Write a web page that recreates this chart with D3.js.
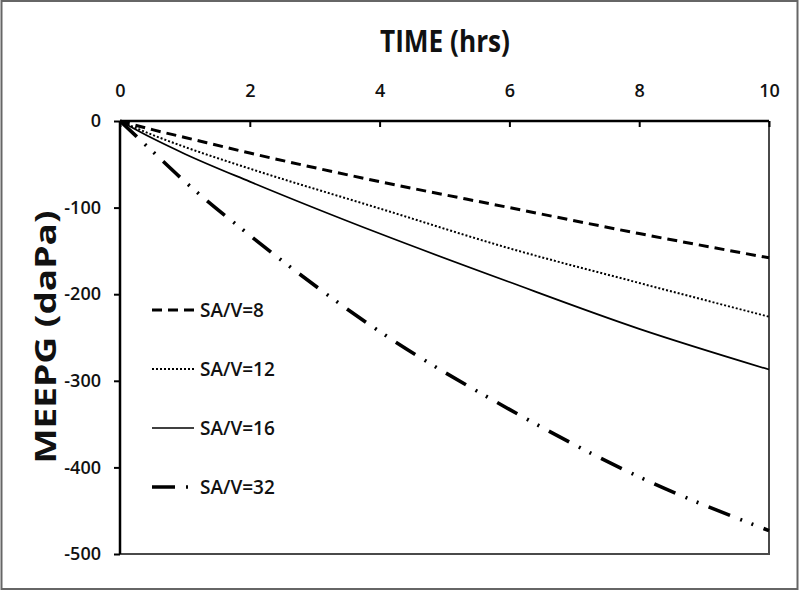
<!DOCTYPE html>
<html>
<head>
<meta charset="utf-8">
<script src="https://cdn.jsdelivr.net/npm/d3@7"></script>
<style>
  body { margin: 0; background: #fff; }
  svg { display: block; }
</style>
</head>
<body>
<div id="wrapper"></div>
<script>
// data
const times = [0, 0.5, 1, 2, 4, 6, 8, 10]
const sav8  = [0, -10, -19, -37, -70, -100, -130, -158]
const sav12 = [0, -16, -30, -55, -101, -147, -187, -226]
const sav16 = [0, -20, -38, -70, -130, -186, -240, -287]
const sav32 = [0, -35, -70, -132, -243, -333, -411, -473]

const seriesNames = ["SA/V=8", "SA/V=12", "SA/V=16", "SA/V=32"]
const xTicks = [0, 2, 4, 6, 8, 10]
const yTicks = [0, -100, -200, -300, -400, -500]

function drawChart() {
  const dimensions = {
    width: 800,
    height: 591,
    margin: { top: 121, right: 31, bottom: 37, left: 120 },
  }
  dimensions.boundedWidth = dimensions.width - dimensions.margin.left - dimensions.margin.right
  dimensions.boundedHeight = dimensions.height - dimensions.margin.top - dimensions.margin.bottom

  const svg = d3.select("#wrapper")
    .append("svg")
      .attr("width", dimensions.width)
      .attr("height", dimensions.height)

  // outer frame
  svg.append("rect")
    .attr("x", 1.5).attr("y", 1)
    .attr("width", 796).attr("height", 588)
    .attr("fill", "none")
    .attr("stroke", "#666")
    .attr("stroke-width", 2)

  const bounds = svg.append("g")
    .attr("transform", `translate(${dimensions.margin.left},${dimensions.margin.top})`)

  const xScale = d3.scaleLinear()
    .domain([0, 10])
    .range([0, dimensions.boundedWidth])

  const yScale = d3.scaleLinear()
    .domain([-500, 0])
    .range([dimensions.boundedHeight, 0])

  // right and bottom edges of plot box
  bounds.append("path")
    .attr("d", `M${xScale(10)},${yScale(0)}V${yScale(-500)}H${xScale(0)}`)
    .attr("fill", "none")
    .attr("stroke", "#4a4a4a")
    .attr("stroke-width", 2)

  const series = [
    { name: seriesNames[0], values: sav8,  dash: "10,6", width: 3 },
    { name: seriesNames[1], values: sav12, dash: "2,2", width: 2 },
    { name: seriesNames[2], values: sav16, dash: null, width: 1.7 },
    { name: seriesNames[3], values: sav32, dash: "23,11,2,10,2,11", width: 3.6 },
  ]

  const lineGenerator = d3.line()
    .curve(d3.curveMonotoneX)
    .x((d, i) => xScale(times[i]))
    .y(d => yScale(d))

  bounds.selectAll(".series")
    .data(series)
    .join("path")
      .attr("class", "series")
      .attr("d", d => lineGenerator(d.values))
      .attr("fill", "none")
      .attr("stroke", "#000")
      .attr("stroke-width", d => d.width)
      .attr("stroke-dasharray", d => d.dash)

  // axes
  const xAxisGenerator = d3.axisTop(xScale)
    .tickValues(xTicks)
    .tickSize(-6)
    .tickPadding(24)
    .tickFormat(d3.format("d"))

  const xAxis = bounds.append("g").call(xAxisGenerator)

  const yAxisGenerator = d3.axisLeft(yScale)
    .tickValues(yTicks)
    .tickSize(6)
    .tickPadding(13)
    .tickFormat(d => d === 0 ? "0" : "-" + Math.abs(d))

  const yAxis = bounds.append("g").call(yAxisGenerator)

  ;[xAxis, yAxis].forEach(ax => {
    ax.select(".domain").attr("stroke", "#000").attr("stroke-width", 2.5)
    ax.selectAll(".tick line").attr("stroke", "#000").attr("stroke-width", 2)
    ax.selectAll(".tick text")
      .attr("fill", "#111")
      .style("font-family", "'Open Sans', sans-serif")
      .style("font-size", "18px")
      .style("font-weight", 600)
  })
  xAxis.select(".domain").attr("d", `M0,0H${dimensions.boundedWidth}`)
  yAxis.select(".domain").attr("d", `M0,0V${dimensions.boundedHeight}`)

  // axis titles
  svg.append("text")
    .attr("x", 445)
    .attr("y", 52)
    .attr("text-anchor", "middle")
    .attr("textLength", 130)
    .attr("lengthAdjust", "spacingAndGlyphs")
    .style("font-family", "'Open Sans', sans-serif")
    .style("font-size", "30px")
    .style("font-weight", 700)
    .attr("fill", "#111")
    .text("TIME (hrs)")

  svg.append("text")
    .attr("transform", "translate(56,337) rotate(-90)")
    .attr("text-anchor", "middle")
    .attr("textLength", 253)
    .attr("lengthAdjust", "spacingAndGlyphs")
    .style("font-family", "'Open Sans', sans-serif")
    .style("font-size", "29px")
    .style("font-weight", 700)
    .attr("fill", "#111")
    .text("MEEPG (daPa)")

  // legend
  const legendY = d3.scalePoint()
    .domain(seriesNames)
    .range([310, 487])

  const legend = svg.append("g")
    .selectAll("g")
    .data(series)
    .join("g")
      .attr("transform", d => `translate(152,${legendY(d.name)})`)

  legend.append("line")
    .attr("x1", 0).attr("x2", 42)
    .attr("stroke", "#000")
    .attr("stroke-width", d => d.width)
    .attr("stroke-dasharray", d => d.dash)

  legend.append("text")
    .attr("x", 48)
    .attr("dy", "0.35em")
    .style("font-family", "'Open Sans', sans-serif")
    .style("font-size", "19px")
    .style("font-weight", 600)
    .attr("fill", "#111")
    .text(d => d.name)
}
drawChart()
</script>
</body>
</html>
